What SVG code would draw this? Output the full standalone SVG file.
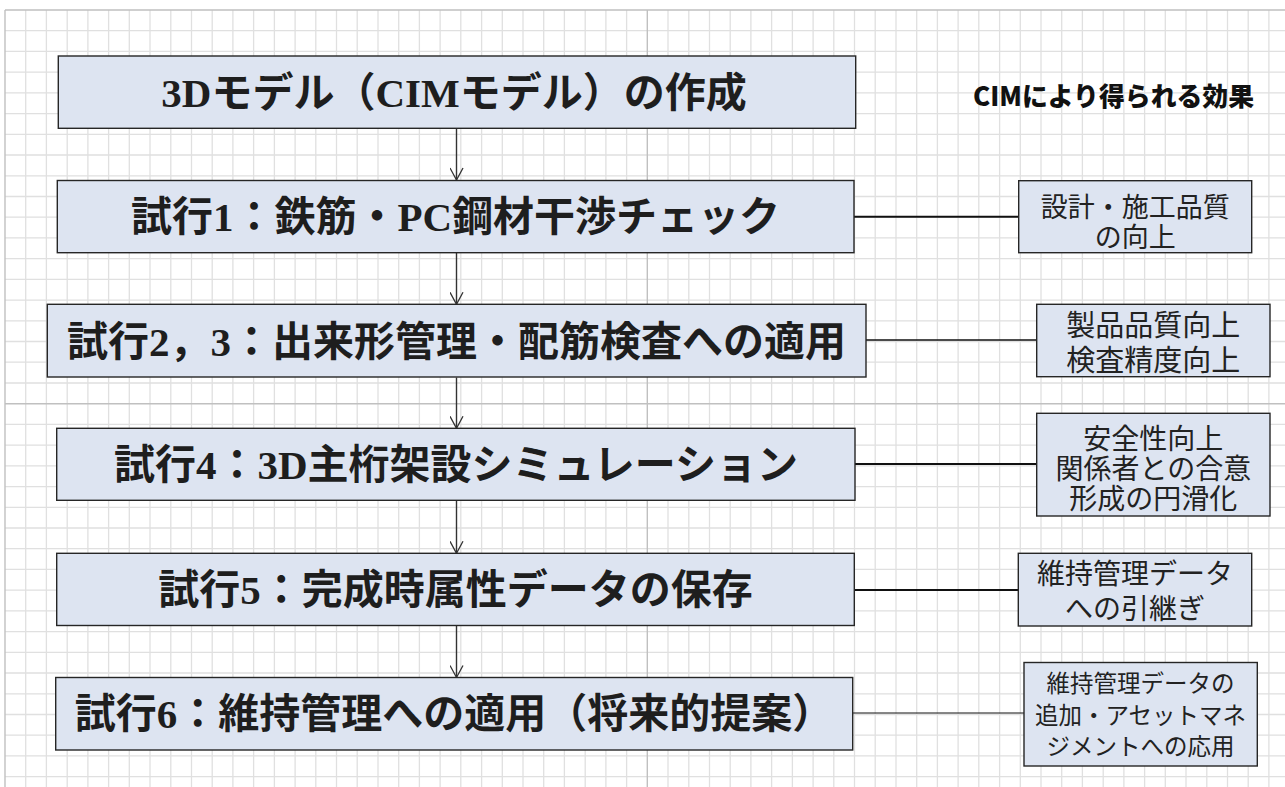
<svg xmlns="http://www.w3.org/2000/svg" width="1285" height="787" viewBox="0 0 1285 787">
<style>
.grid{stroke:#e0e0e0;stroke-width:1.3;fill:none}
.brk{stroke:#c0c0c0;stroke-width:1.4;fill:none}
.box{fill:#dde4f1;stroke:#262626;stroke-width:1.4}
.main{font-family:"Liberation Serif","Noto Sans CJK JP",serif;font-weight:bold;font-size:41px;fill:#1e1e1e;text-anchor:middle}
.side{font-family:"Liberation Serif","Noto Sans CJK JP",serif;fill:#222;text-anchor:middle}
.title{font-family:"Noto Sans CJK JP",sans-serif;font-weight:900;font-size:26px;fill:#111}
.arrow{stroke:#333;stroke-width:1.4;fill:none}
.link{stroke:#111;fill:none}
</style>
<defs>
<marker id="ah" markerUnits="userSpaceOnUse" viewBox="-13 -7 14 14" refX="0" refY="0" markerWidth="14" markerHeight="14" orient="auto">
<path d="M-12,-6.5 L0,0 L-12,6.5" fill="none" stroke="#333" stroke-width="1.3"/>
</marker>
</defs>
<rect x="0" y="0" width="1285" height="787" fill="#fff"/>
<g id="grid">
<path class="grid" d="M25.7,10V787M46.4,10V787M67.2,10V787M87.9,10V787M108.6,10V787M129.3,10V787M150,10V787M170.8,10V787M191.5,10V787M212.2,10V787M232.9,10V787M253.6,10V787M274.4,10V787M295.1,10V787M315.8,10V787M336.5,10V787M357.2,10V787M378,10V787M398.7,10V787M419.4,10V787M440.1,10V787M460.8,10V787M481.6,10V787M502.3,10V787M523,10V787M543.7,10V787M564.4,10V787M585.2,10V787M605.9,10V787M626.6,10V787M668,10V787M688.8,10V787M709.5,10V787M730.2,10V787M750.9,10V787M771.6,10V787M792.4,10V787M813.1,10V787M833.8,10V787M854.5,10V787M875.2,10V787M896,10V787M916.7,10V787M937.4,10V787M958.1,10V787M978.8,10V787M999.6,10V787M1020.3,10V787M1041,10V787M1061.7,10V787M1082.4,10V787M1103.2,10V787M1123.9,10V787M1144.6,10V787M1165.3,10V787M1186,10V787M1206.8,10V787M1227.5,10V787M1248.2,10V787M1268.9,10V787
M5,30.7H1285M5,51.4H1285M5,72.2H1285M5,92.9H1285M5,113.6H1285M5,134.3H1285M5,155H1285M5,175.8H1285M5,196.5H1285M5,217.2H1285M5,237.9H1285M5,258.6H1285M5,279.4H1285M5,300.1H1285M5,320.8H1285M5,341.5H1285M5,362.2H1285M5,383H1285M5,424.4H1285M5,445.1H1285M5,465.8H1285M5,486.6H1285M5,507.3H1285M5,528H1285M5,548.7H1285M5,569.4H1285M5,590.2H1285M5,610.9H1285M5,631.6H1285M5,652.3H1285M5,673H1285M5,693.8H1285M5,714.5H1285M5,735.2H1285M5,755.9H1285M5,776.6H1285"/>
<path class="brk" d="M5,10H1285M5,10V787M647.3,10V787M5,403.7H1285"/>
</g>
<g id="connectors">
<line class="arrow" x1="456.5" y1="128.5" x2="456.5" y2="180" marker-end="url(#ah)"/>
<line class="arrow" x1="456.5" y1="253" x2="456.5" y2="304.3" marker-end="url(#ah)"/>
<line class="arrow" x1="456.5" y1="377.5" x2="456.5" y2="428.3" marker-end="url(#ah)"/>
<line class="arrow" x1="456.5" y1="500.5" x2="456.5" y2="553.3" marker-end="url(#ah)"/>
<line class="arrow" x1="456.5" y1="625.8" x2="456.5" y2="677.5" marker-end="url(#ah)"/>
<line class="link" stroke-width="2" x1="854" y1="216.7" x2="1019" y2="216.7"/>
<line class="link" stroke-width="1.5" x1="866" y1="340" x2="1037" y2="340"/>
<line class="link" stroke-width="2" x1="855" y1="464" x2="1037" y2="464"/>
<line class="link" stroke-width="1.8" x1="854" y1="590" x2="1018" y2="590"/>
<line class="link" stroke-width="1.1" x1="853" y1="713" x2="1024" y2="713"/>
</g>
<g id="title">
<text class="title" x="973" y="106" textLength="281" lengthAdjust="spacingAndGlyphs">CIMにより得られる効果</text>
</g>
<g id="n1">
<rect class="box" x="58.3" y="56" width="797.4" height="72.3"/>
<text class="main" x="454" y="106.5">3Dモデル（CIMモデル）の作成</text>
</g>
<g id="n2">
<rect class="box" x="57.3" y="180.5" width="796.7" height="72.2"/>
<text class="main" x="455.5" y="231">試行1：鉄筋・PC鋼材干渉チェック</text>
</g>
<g id="n3">
<rect class="box" x="47.3" y="304.3" width="818.7" height="72.7"/>
<text class="main" x="456.5" y="355.5">試行2，3：出来形管理・配筋検査への適用</text>
</g>
<g id="n4">
<rect class="box" x="56.7" y="428.3" width="798.3" height="72"/>
<text class="main" x="456" y="479">試行4：3D主桁架設シミュレーション</text>
</g>
<g id="n5">
<rect class="box" x="56.7" y="553.3" width="797.6" height="72.2"/>
<text class="main" x="455.5" y="604">試行5：完成時属性データの保存</text>
</g>
<g id="n6">
<rect class="box" x="55.7" y="677.5" width="797" height="72.5"/>
<text class="main" x="454" y="728">試行6：維持管理への適用（将来的提案）</text>
</g>
<g id="e1">
<rect class="box" x="1018.7" y="180.7" width="233" height="72"/>
<text class="side" font-size="27" x="1135.2" y="216.7">設計・施工品質</text>
<text class="side" font-size="27" x="1135.2" y="246.7">の向上</text>
</g>
<g id="e2">
<rect class="box" x="1036.7" y="304.3" width="233.3" height="72.4"/>
<text class="side" font-size="29" x="1153.3" y="335.7">製品品質向上</text>
<text class="side" font-size="29" x="1153.3" y="370.7">検査精度向上</text>
</g>
<g id="e3">
<rect class="box" x="1036.7" y="413.3" width="233.3" height="102.7"/>
<text class="side" font-size="28" x="1153.3" y="448.7">安全性向上</text>
<text class="side" font-size="28" x="1153.3" y="478.7">関係者との合意</text>
<text class="side" font-size="28" x="1153.3" y="508.7">形成の円滑化</text>
</g>
<g id="e4">
<rect class="box" x="1018.3" y="553.3" width="233.4" height="72.7"/>
<text class="side" font-size="28" x="1135" y="583.7">維持管理データ</text>
<text class="side" font-size="28" x="1135" y="618.7">への引継ぎ</text>
</g>
<g id="e5">
<rect class="box" x="1024" y="662.5" width="233.3" height="103.5"/>
<text class="side" font-size="23.5" x="1140.6" y="692">維持管理データの</text>
<text class="side" font-size="23.5" x="1140.6" y="723.7">追加・アセットマネ</text>
<text class="side" font-size="23.5" x="1140.6" y="755.4">ジメントへの応用</text>
</g>
</svg>
